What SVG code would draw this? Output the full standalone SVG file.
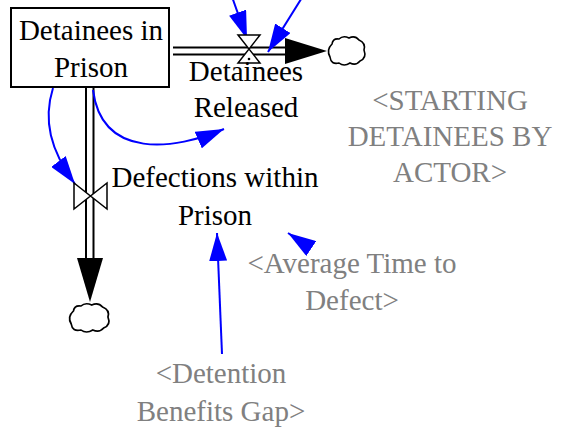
<svg xmlns="http://www.w3.org/2000/svg" width="561" height="429" viewBox="0 0 561 429">
<style>
text{font-family:'Liberation Serif','Times New Roman',serif;font-size:29px;text-anchor:middle}
.blk{fill:#000}
.gry{fill:#808080}
.pipe{stroke:#000;stroke-width:2;fill:none}
.link{stroke:#0000ff;stroke-width:2;fill:none;marker-end:url(#arr)}
.cloud{fill:#fff;stroke:#000;stroke-width:1.6}
</style>
<defs>
<marker id="arr" markerUnits="userSpaceOnUse" viewBox="0 0 28 18" refX="28" refY="9" markerWidth="28" markerHeight="18" orient="auto">
<path d="M0,0 L28,9 L0,18 Z" fill="#0000ff"/>
</marker>
<path id="cloudShape" d="M5,9 Q6,3 12,4 Q16,0 22,3 Q28,0 32,5 Q39,8 37,15 Q40,23 33,26 Q29,31 23,28 Q17,32 12,28 Q4,30 3,22 Q-1,15 5,9 Z"/>
</defs>
<g id="connectors">
<path class="pipe" d="M173,47.5 H286 M173,54.5 H286"/>
<path class="pipe" d="M86,88 V259 M93.5,88 V259"/>
<path d="M285,38 L327,51 L285,64 Z" fill="#000"/>
<path d="M77,258 L103,258 L90,302 Z" fill="#000"/>
<path class="link" d="M231,-6 L247,39"/>
<path class="link" d="M303,-4 L268,52"/>
<path class="link" d="M53,88 C43,120 50,150 75,184"/>
<path class="link" d="M93,90 C102,160 175,150 224,129"/>
<path class="link" d="M309.6,247.4 L288,233"/>
<path class="link" d="M222,354 L217,233"/>
</g>
<g id="cloud-right"><use href="#cloudShape" class="cloud" transform="translate(327,35)"/></g>
<g id="cloud-bottom"><use href="#cloudShape" class="cloud" transform="translate(68,302) scale(1.08,1.0)"/></g>
<g id="valve-released">
<path d="M238,35 L260,35 L238,63 L260,63 Z" fill="#fff" stroke="#000" stroke-width="1.5"/>
<circle cx="249" cy="59" r="1.3" fill="#000"/>
</g>
<g id="valve-defections">
<path d="M74,183 L74,209 L107,183 L107,209 Z" fill="#fff" stroke="#000" stroke-width="1.5"/>
</g>
<g id="stock">
<rect x="11" y="8" width="158" height="79" fill="#fff" stroke="#000" stroke-width="2"/>
<text class="blk" x="91" y="40">Detainees in</text>
<text class="blk" x="91" y="77">Prison</text>
</g>
<g id="flow-released">
<text class="blk" x="246" y="81">Detainees</text>
<text class="blk" x="246" y="117">Released</text>
</g>
<g id="flow-defections">
<text class="blk" x="215" y="187">Defections within</text>
<text class="blk" x="215" y="225">Prison</text>
</g>
<g id="shadow-starting">
<text class="gry" x="450" y="110">&lt;STARTING</text>
<text class="gry" x="450" y="146">DETAINEES BY</text>
<text class="gry" x="450" y="182">ACTOR&gt;</text>
</g>
<g id="shadow-average">
<text class="gry" x="352" y="273">&lt;Average Time to</text>
<text class="gry" x="352" y="310">Defect&gt;</text>
</g>
<g id="shadow-detention">
<text class="gry" x="221" y="383">&lt;Detention</text>
<text class="gry" x="221" y="421">Benefits Gap&gt;</text>
</g>
</svg>
